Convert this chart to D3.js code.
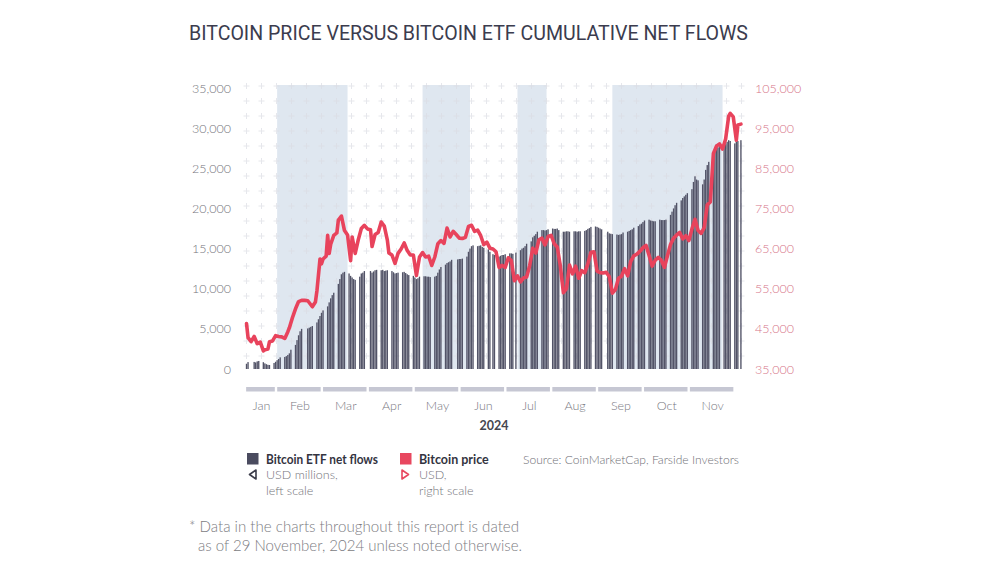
<!DOCTYPE html>
<html><head><meta charset="utf-8">
<script src="https://cdn.jsdelivr.net/npm/d3@7"></script>
<style>
html,body{margin:0;padding:0;background:#fff;}
svg{display:block;font-family:Lato,"Noto Sans",sans-serif;}
</style></head>
<body>
<svg id="chart" width="1000" height="563"></svg>
<script>
// ---------- DATA ----------
const months = ["Jan","Feb","Mar","Apr","May","Jun","Jul","Aug","Sep","Oct","Nov"];
const leftTicks = [0,5000,10000,15000,20000,25000,30000,35000];
const rightTicks = [35000,45000,55000,65000,75000,85000,95000,105000];
const marketHolidays = ["2024-01-15","2024-02-19","2024-03-29","2024-05-27","2024-06-19","2024-07-04","2024-09-02","2024-11-28"];
const shadedPeriods = [["2024-01-31","2024-03-17"],["2024-05-05","2024-06-05"],["2024-07-06","2024-07-25"],["2024-09-06","2024-11-17"]];

// Cumulative ETF net flows, USD millions, one row per trading week
const etfFlowWeeks = [
  [655, 860],
  [880, 820, 950, 1000],
  [850, 700, 600, 520, 500],
  [750, 900, 1100, 1250, 1450],
  [1500, 1600, 1750, 1950, 2400],
  [3000, 3600, 4200, 4700, 5000],
  [5050, 5150, 5250, 5350],
  [5800, 6200, 6600, 7000, 7300],
  [7800, 8300, 8800, 9200, 9500],
  [10600, 11200, 11800, 12000, 12100],
  [11900, 11600, 11400, 11200, 11100],
  [11500, 11900, 12000, 12200],
  [12200, 12000, 12150, 12300, 12350],
  [12300, 12350, 12200, 12250, 12300],
  [12200, 12050, 11900, 11950, 12000],
  [12050, 12100, 11950, 11800, 11700],
  [11600, 11400, 11200, 11300, 11500],
  [11550, 11550, 11500, 11500, 11450],
  [11500, 11600, 12000, 12400, 12700],
  [13000, 13200, 13300, 13400, 13600],
  [13650, 13700, 13700, 13750],
  [14000, 14600, 15000, 15300, 15400],
  [15300, 15350, 15400, 15200, 15100],
  [14900, 14600, 14300, 14200],
  [14000, 14100, 14200, 14200, 14300],
  [14400, 14400, 14350, 14500],
  [14800, 15000, 15100, 15300, 15600],
  [15900, 16400, 16600, 16800, 17100],
  [17300, 17300, 17250, 17300, 17400],
  [17500, 17450, 17450, 17500, 17300],
  [17100, 17100, 17150, 17150, 17100],
  [17150, 17150, 17100, 17150, 17150],
  [17200, 17300, 17450, 17550, 17700],
  [17750, 17700, 17600, 17500, 17400],
  [17100, 16900, 16850, 16800],
  [16750, 16700, 16750, 16800, 17000],
  [17100, 17200, 17300, 17400, 17600],
  [17800, 18000, 18100, 18300, 18500],
  [18600, 18500, 18450, 18400, 18400],
  [18600, 18550, 18550, 18550, 18600],
  [19200, 19600, 20000, 20400, 20700],
  [21000, 21300, 21500, 21700, 21900],
  [22400, 23300, 24000, 23600, 23500],
  [23000, 23600, 24800, 25400, 25800],
  [26800, 27500, 28000, 27600, 27900],
  [28100, 28000, 28300, 28500, 28400],
  [28100, 28300, 28400, 28500]
];

// Bitcoin price, USD thousands
const priceDates = ["01-11","01-12","01-14","01-16","01-18","01-20","01-22","01-23","01-25","01-26","01-28","01-30",
"02-01","02-03","02-05","02-07","02-08","02-10","02-12","02-14","02-16","02-18","02-20","02-23","02-25","02-26","02-28","02-29",
"03-01","03-03","03-04","03-05","03-06","03-08","03-10","03-11","03-13","03-15","03-17","03-19","03-20","03-22","03-24","03-26","03-28","03-30",
"04-01","04-02","04-04","04-06","04-08","04-10","04-12","04-13","04-15","04-17","04-19","04-21","04-23","04-25","04-27","04-29",
"05-01","05-03","05-05","05-07","05-09","05-11","05-13","05-15","05-17","05-19","05-21","05-23","05-25","05-27","05-29","05-31",
"06-02","06-04","06-06","06-08","06-10","06-12","06-14","06-16","06-18","06-20","06-22","06-24","06-26","06-28","06-30",
"07-02","07-04","07-06","07-08","07-10","07-12","07-14","07-16","07-18","07-20","07-22","07-24","07-26","07-28","07-30",
"08-01","08-03","08-05","08-07","08-09","08-11","08-13","08-15","08-17","08-19","08-21","08-23","08-25","08-27","08-29","08-31",
"09-02","09-04","09-06","09-08","09-10","09-12","09-14","09-16","09-18","09-20","09-22","09-24","09-26","09-28","09-30",
"10-02","10-04","10-06","10-08","10-10","10-12","10-14","10-16","10-18","10-20","10-22","10-24","10-26","10-28","10-30",
"11-01","11-03","11-05","11-07","11-09","11-11","11-13","11-15","11-17","11-19","11-21","11-22","11-24","11-26","11-27","11-29"];
const priceValues = [46.3,42.8,41.8,43.1,41.3,41.7,39.5,39.8,40.0,41.8,42.0,43.3,
43.1,43.0,42.6,44.3,45.3,47.8,50.0,51.8,52.1,52.1,52.0,50.5,51.7,54.5,62.4,61.2,
62.4,63.1,68.3,63.8,66.1,68.3,68.9,72.1,73.1,69.5,68.4,62.0,67.9,63.8,67.2,70.0,70.8,69.9,
69.7,65.5,68.5,69.0,71.6,70.6,67.1,63.9,63.4,61.3,63.8,64.9,66.4,64.5,63.4,63.4,
58.3,62.9,64.0,62.9,63.1,60.8,62.9,66.2,67.0,66.3,70.1,67.9,69.3,68.5,67.6,67.5,
67.8,70.5,70.8,69.3,69.6,68.2,66.0,66.6,65.1,64.9,64.2,60.3,60.8,60.3,62.7,
62.0,57.0,58.2,56.7,57.7,57.9,60.8,65.1,63.9,67.2,67.6,65.9,68.0,68.3,66.2,
65.4,60.7,54.0,55.0,60.9,58.7,60.6,57.6,59.5,59.0,61.2,64.1,64.2,59.4,59.0,58.9,
59.1,58.0,53.9,54.8,57.6,58.1,60.0,58.2,61.8,63.2,63.6,64.3,65.2,65.8,63.3,
60.6,62.1,62.8,62.1,60.3,63.2,66.0,67.6,68.4,69.0,67.4,68.2,67.0,69.9,72.3,
69.5,68.8,70.2,75.9,76.6,88.7,90.5,91.1,89.8,92.3,98.0,98.7,97.8,92.0,95.8,96.0];

// ---------- BUILD ----------
const parse = d3.timeParse("%Y-%m-%d");
const holidaySet = new Set(marketHolidays);
const fmtDay = d3.timeFormat("%Y-%m-%d");
const tradingDays = d3.timeDay.range(new Date(2024,0,11), new Date(2024,10,30))
  .filter(d => d.getDay() !== 0 && d.getDay() !== 6 && !holidaySet.has(fmtDay(d)));
const flowValues = etfFlowWeeks.flat();
const flows = tradingDays.slice(0, flowValues.length).map((d,i) => ({date:d, value:flowValues[i]}));
const prices = priceDates.map((s,i) => ({date: parse("2024-"+s), value: priceValues[i]*1000}));

const svg = d3.select("#chart");
const x = d3.scaleTime().domain([new Date(2024,0,10), new Date(2024,11,1)]).range([245, 744]);
const yL = d3.scaleLinear().domain([0,35000]).range([369,88]);
const yR = d3.scaleLinear().domain([35000,105000]).range([369,88]);
// month ruler (equal-width months as in the original)
const mPos = d3.scaleLinear().domain([1,10]).range([276,688.7]);

// Title
svg.append("text").attr("x",189).attr("y",40)
  .attr("font-family","Roboto, 'Noto Sans', sans-serif").attr("font-size",19.5)
  .attr("fill","#3b3c4e").attr("textLength",559).attr("lengthAdjust","spacingAndGlyphs")
  .text("BITCOIN PRICE VERSUS BITCOIN ETF CUMULATIVE NET FLOWS");

// Shaded periods
svg.append("g").selectAll("rect").data(shadedPeriods).join("rect")
  .attr("x", d => x(parse(d[0]))).attr("width", d => x(parse(d[1])) - x(parse(d[0])))
  .attr("y", 85).attr("height", 369-85).attr("fill","#dfe7f0");

// Plus-grid
const gridG = svg.append("g").attr("stroke","#dcdde4").attr("stroke-width",1).attr("opacity",0.7);
const gxs = d3.range(246.5, 752, 15), gys = d3.range(86, 366, 15);
gxs.forEach(gx => gys.forEach(gy => {
  gridG.append("path").attr("d", `M${gx-3},${gy}H${gx+3}M${gx},${gy-3}V${gy+3}`);
}));

// Bars
svg.append("g").selectAll("rect").data(flows).join("rect")
  .attr("x", d => x(d.date) - 0.7).attr("width", 1.35)
  .attr("y", d => yL(d.value)).attr("height", d => yL(0) - yL(d.value))
  .attr("fill","#525367");

// Price line
svg.append("path").datum(prices)
  .attr("fill","none").attr("stroke","#e8435c").attr("stroke-width",3.6)
  .attr("stroke-linejoin","round").attr("stroke-linecap","round")
  .attr("d", d3.line().x(d => x(d.date)).y(d => yR(d.value)));

// Axes
const fmt = d3.format(",");
const gl = svg.append("g").attr("transform","translate(245,0)")
  .call(d3.axisLeft(yL).tickValues(leftTicks).tickSize(0).tickPadding(14).tickFormat(fmt));
gl.select(".domain").remove();
gl.selectAll("text").attr("font-family","Lato, sans-serif").attr("font-weight",300).attr("font-size",12.5).attr("fill","#74747b");
const gr = svg.append("g").attr("transform","translate(744,0)")
  .call(d3.axisRight(yR).tickValues(rightTicks).tickSize(0).tickPadding(11).tickFormat(fmt));
gr.select(".domain").remove();
gr.selectAll("text").attr("font-family","Lato, sans-serif").attr("font-weight",300).attr("font-size",12.5).attr("fill","#d67488");

// Month ruler
const monthSeg = months.map((m,i) => ({name:m, start: i===0 ? mPos(10/31) : mPos(i), end: mPos(i+1)}));
svg.append("g").selectAll("rect").data(monthSeg).join("rect")
  .attr("x", d => d.start + 1.2).attr("width", d => d.end - d.start - 2.4)
  .attr("y", 387).attr("height", 4.5).attr("fill","#c6c7d3");
svg.append("g").selectAll("text").data(monthSeg).join("text")
  .attr("x", d => (d.start + d.end)/2 + 1).attr("y", 409.5).attr("text-anchor","middle")
  .attr("font-size",12.5).attr("font-weight",300).attr("fill","#78787f").text(d => d.name);
svg.append("text").attr("x",494).attr("y",430).attr("text-anchor","middle")
  .attr("font-size",12.5).attr("font-weight","bold").attr("fill","#45464f").text("2024");

// Legend
const lg = svg.append("g");
lg.append("rect").attr("x",247).attr("y",453).attr("width",11.5).attr("height",11.5).attr("fill","#4a4b5f");
lg.append("text").attr("x",266).attr("y",463.5).attr("font-size",12.5).attr("font-weight","bold").attr("fill","#33343f")
  .attr("textLength",112).attr("lengthAdjust","spacingAndGlyphs").text("Bitcoin ETF net flows");
lg.append("path").attr("d","M256,470 L249.5,474.5 L256,479 Z").attr("fill","none").attr("stroke","#3b3c4a").attr("stroke-width",1.6).attr("stroke-linejoin","round");
lg.append("text").attr("x",266).attr("y",479).attr("font-size",12.5).attr("font-weight",300).attr("fill","#74747b").text("USD millions,");
lg.append("text").attr("x",266).attr("y",494.5).attr("font-size",12.5).attr("font-weight",300).attr("fill","#74747b").text("left scale");

lg.append("rect").attr("x",400).attr("y",453).attr("width",11.5).attr("height",11.5).attr("fill","#e8475f");
lg.append("text").attr("x",419).attr("y",463.5).attr("font-size",12.5).attr("font-weight","bold").attr("fill","#33343f").text("Bitcoin price");
lg.append("path").attr("d","M402,470 L408.5,474.5 L402,479 Z").attr("fill","none").attr("stroke","#e8475f").attr("stroke-width",1.6).attr("stroke-linejoin","round");
lg.append("text").attr("x",419).attr("y",479).attr("font-size",12.5).attr("font-weight",300).attr("fill","#74747b").text("USD,");
lg.append("text").attr("x",419).attr("y",494.5).attr("font-size",12.5).attr("font-weight",300).attr("fill","#74747b").text("right scale");

svg.append("text").attr("x",523).attr("y",463.5).attr("font-size",12.5).attr("font-weight",300).attr("fill","#6f6f76")
  .attr("textLength",216).attr("lengthAdjust","spacingAndGlyphs")
  .text("Source: CoinMarketCap, Farside Investors");

// Footnote
svg.append("text").attr("x",189).attr("y",532).attr("font-size",14.8).attr("font-weight",300).attr("fill","#7c7c82")
  .attr("textLength",330).attr("lengthAdjust","spacingAndGlyphs")
  .text("* Data in the charts throughout this report is dated");
svg.append("text").attr("x",198).attr("y",551).attr("font-size",14.8).attr("font-weight",300).attr("fill","#7c7c82")
  .attr("textLength",324).attr("lengthAdjust","spacingAndGlyphs")
  .text("as of 29 November, 2024 unless noted otherwise.");
</script>
</body></html>
